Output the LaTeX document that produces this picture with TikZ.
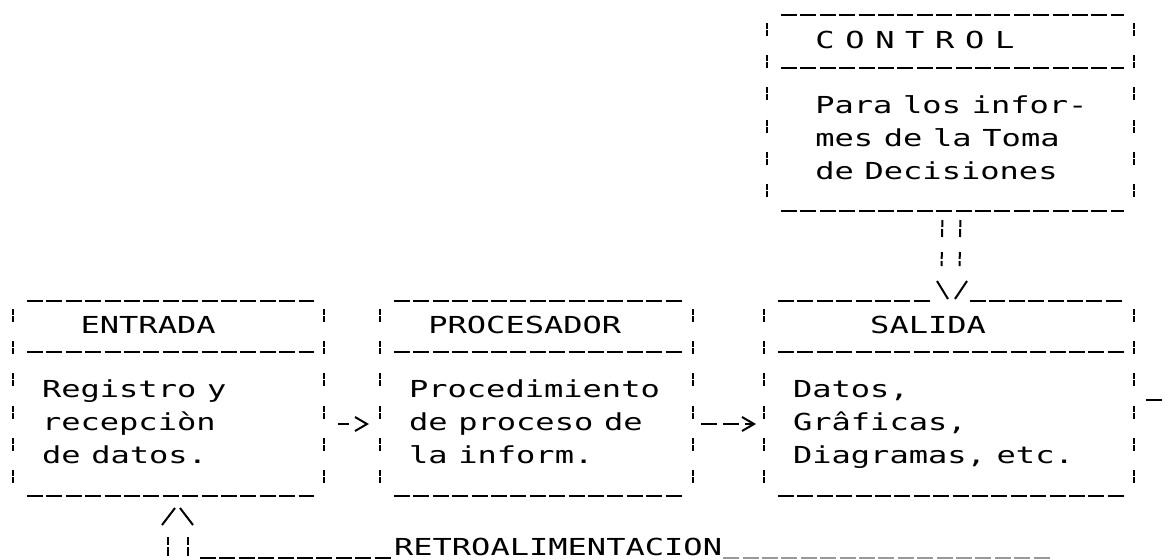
\documentclass[tikz,border=0pt]{standalone}
\usepackage{fontspec}
\usepackage{graphicx}
\usetikzlibrary{positioning,arrows.meta}
\newfontfamily\matriz{DejaVu Sans Mono}
\newcommand{\letra}{\matriz\fontsize{11.7pt}{16.5pt}\selectfont}
\newcommand{\ancho}[1]{\scalebox{1.37}[1]{\begin{tabular}{@{}l@{}}#1\end{tabular}}}
\newcommand{\marco}[2]{\draw[hlinea] (#1.south west) -- (#1.south east);
                       \draw[hlinea] (#2.south west) -- (#2.south east);
                       \draw[vlinea] (#1.north west) -- (#2.south west);
                       \draw[vlinea] (#1.north east) -- (#2.south east);
                      }

\begin{document}
\begin{tikzpicture}[x=0.5pt,y=-0.5pt,line width=1pt,
   every node/.style={font=\letra,inner sep=0pt},
   cabeza/.style={minimum height=24.5pt,inner xsep=14pt,align=left},
   cuerpo/.style={minimum height=71pt,inner xsep=14pt,align=left},
   hraya/.style={dash pattern=on 8pt off 1.7pt},
   hlinea/.style={hraya,shorten <=7pt,shorten >=5pt},
   vlinea/.style={dash pattern=on 3pt off 0.5pt on 3pt off 9.6pt,shorten <=4pt,shorten >=2.5pt},
   vdoble/.style={dash pattern=on 3.5pt off 1pt on 4pt off 7.5pt},
   flecha/.style={-{Straight Barb[length=6pt,width=7pt]},dash pattern=on 8pt off 3pt}]
 \useasboundingbox (0,0) rectangle (1167,558);

 \node[cabeza,text width=126.5pt] (entH) at (168.5,326.5) {\ancho{\phantom{xx}ENTRADA}};
 \node[cuerpo,text width=126.5pt,below=0pt of entH] (ent)
      {\ancho{Registro y\\recepciòn\\de datos.}};

 \node[cabeza,text width=127.5pt] (procH) at (536.5,326.5) {\ancho{\phantom{x}PROCESADOR}};
 \node[cuerpo,text width=127.5pt,below=0pt of procH] (proc)
      {\ancho{Procedimiento\\de proceso de\\la inform.}};

 \node[cabeza,text width=156pt] (salH) at (949,326.5) {\ancho{\phantom{xxxx}SALIDA}};
 \node[cuerpo,text width=156pt,below=0pt of salH] (sal)
      {\ancho{Datos,\\Grâficas,\\Diagramas, etc.}};

 \node[cabeza,text width=154.5pt,minimum height=25.5pt] (ctlH) at (950.5,41.5)
      {\ancho{\phantom{x}C O N T R O L}};
 \node[cuerpo,text width=154.5pt,minimum height=70.5pt,below=0pt of ctlH] (ctl)
      {\ancho{\phantom{x}Para los infor-\\\phantom{x}mes de la Toma\\\phantom{x}de Decisiones}};

 % bordes
 \draw[hlinea] (entH.north west) -- (entH.north east);
 \draw[hlinea] (procH.north west) -- (procH.north east);
 \draw[hlinea] (ctlH.north west) -- (ctlH.north east);
 \draw[hlinea,shorten >=0pt] (salH.north west) -- ([xshift=-9.5pt]salH.north);
 \draw[hlinea,shorten <=0pt] ([xshift=10.5pt]salH.north) -- (salH.north east);
 \marco{entH}{ent}
 \marco{procH}{proc}
 \marco{salH}{sal}
 \marco{ctlH}{ctl}
 \draw[hraya] ([shift={(6pt,12pt)}]sal.east) -- ([shift={(14.5pt,12pt)}]sal.east);

 % flujo
 \draw[flecha,dash pattern=on 5.5pt off 10pt,shorten <=7pt,shorten >=5.5pt] (ent.east) -- (proc.west);
 \draw[flecha,shorten <=4pt,shorten >=4pt] (proc.east) -- (sal.west);

 \draw[vdoble,shorten <=4.5pt,shorten >=17.5pt] ([xshift=-4pt]ctl.south) -- ([xshift=-4pt]salH.north);
 \draw[vdoble,shorten <=4.5pt,shorten >=17.5pt] ([xshift=5pt]ctl.south) -- ([xshift=5pt]salH.north);
 \draw ([shift={(-6pt,10pt)}]salH.north) -- ([shift={(-0.5pt,1pt)}]salH.north);
 \draw ([shift={(9pt,10pt)}]salH.north) -- ([shift={(3pt,1pt)}]salH.north);

 % retroalimentacion
 \coordinate (rini) at (200,558);
 \coordinate (rfin) at (1050,558);
 \coordinate (rpie) at (178,556);
 \coordinate (rtip) at (ent.south -| rpie);
 \node[anchor=base west] (retro) at (393,555) {\scalebox{1.37}[1]{RETROALIMENTACION}};
 \draw[hraya] (rini) -- (retro.west |- rini);
 \draw[hraya,black!40] (retro.east |- rini) -- (rfin);
 \draw[dash pattern=on 4.5pt off 1pt on 4.5pt off 20pt,shorten >=20.5pt]
      ([xshift=-5pt]rpie) -- ([xshift=-5pt]rtip);
 \draw[dash pattern=on 4.5pt off 1pt on 4.5pt off 20pt,shorten >=20.5pt]
      ([xshift=5pt]rpie) -- ([xshift=5pt]rtip);
 \draw ([shift={(-8pt,-14.5pt)}]rtip) -- ([shift={(-1.5pt,-6pt)}]rtip);
 \draw ([shift={(1pt,-6pt)}]rtip) -- ([shift={(7.5pt,-14.5pt)}]rtip);
\end{tikzpicture}
\end{document}
